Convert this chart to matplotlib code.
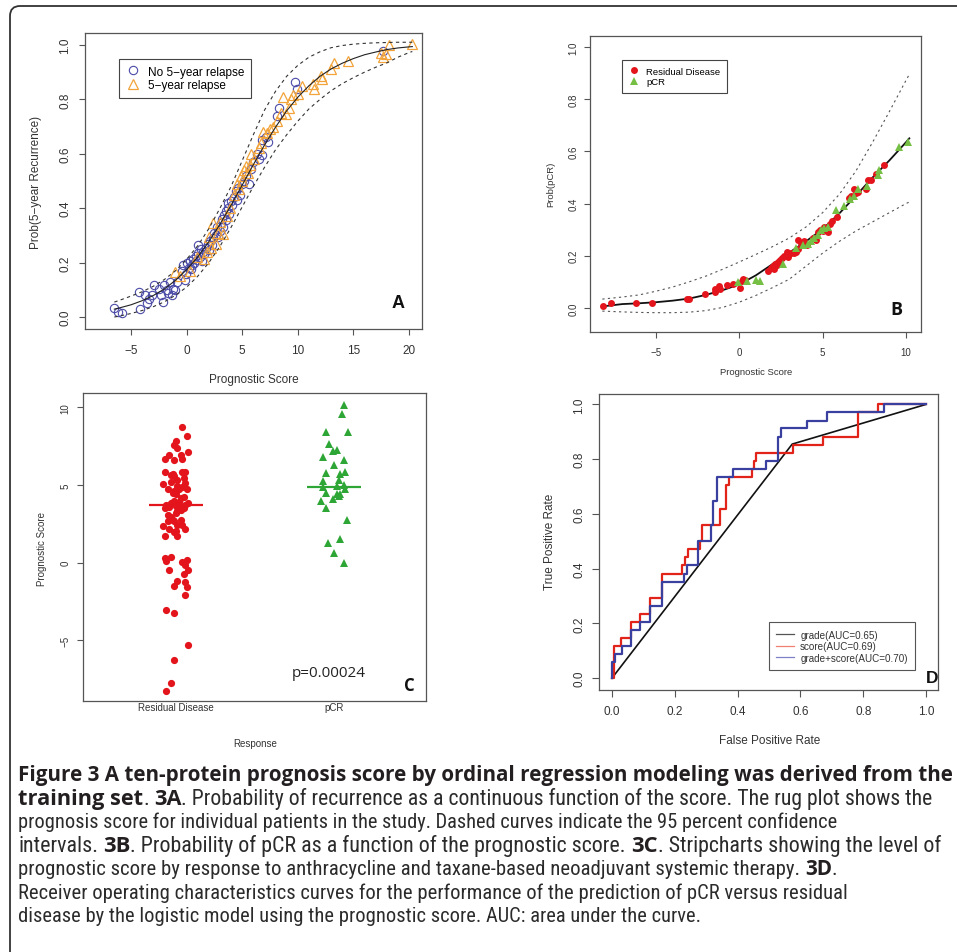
import matplotlib
matplotlib.use('Agg')
import matplotlib.pyplot as plt
from matplotlib import font_manager as fm
from matplotlib.patches import FancyBboxPatch
from matplotlib.lines import Line2D

W, H = 957, 953
plt.rcParams['font.family'] = ['Liberation Sans', 'DejaVu Sans']

# ---------------- data ----------------
# Panel A: prognostic score vs Prob(5-year recurrence)
a_no_relapse = [(-6.5, 0.033), (-6.2, 0.02), (-5.8, 0.015), (-4.25, 0.092), (-4.2, 0.028), (-3.75, 0.082),
                (-3.6, 0.053), (-3.4, 0.067), (-3.15, 0.08), (-2.95, 0.116), (-2.5, 0.104), (-2.3, 0.08),
                (-2.1, 0.055), (-2.05, 0.116), (-1.75, 0.098), (-1.65, 0.09), (-1.5, 0.128), (-1.35, 0.08),
                (-1.2, 0.104), (-1.05, 0.1), (-0.9, 0.13), (-0.45, 0.17), (-0.3, 0.19), (-0.15, 0.135),
                (-0.1, 0.16), (0.05, 0.2), (0.2, 0.18), (0.3, 0.205), (0.4, 0.175), (0.5, 0.19), (0.6, 0.215),
                (0.7, 0.2), (0.8, 0.225), (0.9, 0.21), (1.0, 0.265), (1.05, 0.235), (1.2, 0.22), (1.3, 0.25),
                (1.4, 0.205), (1.5, 0.24), (1.6, 0.23), (1.75, 0.255), (1.9, 0.27), (2.0, 0.245), (2.1, 0.28),
                (2.3, 0.265), (2.4, 0.29), (2.5, 0.31), (2.6, 0.3), (2.75, 0.33), (2.85, 0.295), (3.0, 0.315),
                (3.1, 0.345), (3.2, 0.36), (3.3, 0.33), (3.4, 0.375), (3.5, 0.355), (3.55, 0.39), (3.7, 0.42),
                (3.75, 0.4), (3.85, 0.38), (4.0, 0.425), (4.1, 0.41), (4.25, 0.44), (4.4, 0.465), (4.5, 0.43),
                (4.6, 0.475), (4.8, 0.45), (5.0, 0.49), (5.2, 0.5), (5.3, 0.52), (5.6, 0.49), (5.8, 0.545),
                (6.0, 0.57), (6.3, 0.6), (6.5, 0.58), (6.75, 0.597), (6.8, 0.65), (7.1, 0.66), (7.3, 0.645),
                (8.1, 0.738), (8.35, 0.77), (9.75, 0.865), (9.9, 0.84), (17.7, 0.977)]
a_relapse = [(-1.05, 0.165), (-0.6, 0.15), (0.3, 0.17), (0.9, 0.22), (1.6, 0.215), (1.8, 0.24), (2.0, 0.295),
             (2.2, 0.255), (2.4, 0.345), (2.6, 0.27), (2.8, 0.31), (3.0, 0.35), (3.3, 0.305), (3.6, 0.37),
             (3.9, 0.4), (4.3, 0.45), (4.5, 0.49), (4.7, 0.47), (4.9, 0.52), (5.0, 0.5), (5.2, 0.54),
             (5.3, 0.555), (5.5, 0.53), (5.7, 0.56), (5.8, 0.6), (6.1, 0.58), (6.5, 0.62), (6.7, 0.64),
             (6.9, 0.68), (7.2, 0.675), (7.5, 0.69), (7.8, 0.7), (8.1, 0.72), (8.5, 0.75), (8.7, 0.81),
             (8.9, 0.745), (9.2, 0.77), (9.4, 0.8), (9.6, 0.815), (10.0, 0.82), (10.4, 0.85), (11.4, 0.855),
             (11.5, 0.84), (12.1, 0.885), (12.2, 0.875), (13.0, 0.91), (13.3, 0.935), (14.5, 0.94),
             (17.5, 0.97), (17.7, 0.955), (17.9, 0.965), (18.2, 1.0), (20.3, 1.005)]
a_grid = [-6.5, -6, -5, -4, -3, -2, -1, 0, 1, 2, 3, 4, 5, 6, 7, 8, 9, 10, 11, 12, 13, 14, 15, 16, 17, 18, 19, 20, 20.3]
a_fit = [0.029, 0.034, 0.045, 0.060, 0.079, 0.103, 0.135, 0.174, 0.221, 0.277, 0.341, 0.411, 0.485, 0.560, 0.632,
         0.698, 0.758, 0.808, 0.850, 0.885, 0.912, 0.933, 0.950, 0.964, 0.974, 0.983, 0.989, 0.993, 0.994]
a_upper = [0.055, 0.062, 0.077, 0.093, 0.113, 0.138, 0.170, 0.212, 0.262, 0.325, 0.400, 0.480, 0.575, 0.670, 0.760,
           0.830, 0.885, 0.925, 0.955, 0.975, 0.990, 0.998, 1.003, 1.006, 1.008, 1.009, 1.010, 1.010, 1.010]
a_lower = [0.000, 0.004, 0.013, 0.024, 0.038, 0.056, 0.080, 0.110, 0.150, 0.200, 0.260, 0.330, 0.405, 0.480, 0.550,
           0.615, 0.670, 0.720, 0.765, 0.800, 0.832, 0.858, 0.880, 0.900, 0.918, 0.934, 0.955, 0.972, 0.976]

# Panel B: prognostic score vs Prob(pCR)
b_residual = [(-8.17, 0.006), (-7.67, 0.019), (-6.2, 0.019), (-5.24, 0.019), (-3.14, 0.034), (-3.0, 0.034),
              (-2.04, 0.055), (-1.45, 0.062), (-1.45, 0.073), (-1.19, 0.083), (-1.15, 0.073), (-0.71, 0.089),
              (-0.35, 0.09), (0.05, 0.078), (0.15, 0.105), (0.25, 0.11), (0.35, 0.107), (1.75, 0.14),
              (1.9, 0.155), (2.0, 0.162), (2.1, 0.15), (2.15, 0.17), (2.25, 0.165), (2.3, 0.175), (2.45, 0.185),
              (2.55, 0.19), (2.7, 0.2), (2.85, 0.213), (2.95, 0.195), (3.1, 0.21), (3.3, 0.21), (3.4, 0.215),
              (3.5, 0.26), (3.55, 0.225), (3.7, 0.25), (3.9, 0.255), (4.05, 0.24), (4.4, 0.27), (4.6, 0.26),
              (4.75, 0.29), (4.85, 0.3), (5.0, 0.295), (5.1, 0.31), (5.3, 0.29), (5.45, 0.32), (5.55, 0.335),
              (5.85, 0.35), (6.6, 0.42), (6.7, 0.43), (6.9, 0.455), (7.0, 0.44), (7.1, 0.445), (7.6, 0.455),
              (7.7, 0.49), (7.9, 0.49), (8.2, 0.515), (8.7, 0.548)]
b_pcr = [(-0.08, 0.098), (0.45, 0.105), (1.0, 0.108), (1.25, 0.105), (2.6, 0.17), (3.4, 0.23), (3.8, 0.24),
         (4.1, 0.245), (4.3, 0.255), (4.5, 0.27), (4.7, 0.28), (4.9, 0.3), (5.1, 0.305), (5.3, 0.31),
         (5.79, 0.377), (6.3, 0.39), (6.64, 0.418), (6.9, 0.43), (7.14, 0.456), (7.64, 0.469), (8.3, 0.51),
         (8.4, 0.53), (9.6, 0.615), (10.14, 0.635)]
b_grid = [-8.2, -7, -6, -5, -4, -3, -2, -1, 0, 1, 2, 3, 4, 5, 6, 7, 8, 9, 10, 10.2]
b_fit = [0.006, 0.015, 0.018, 0.022, 0.028, 0.036, 0.05, 0.068, 0.09, 0.125, 0.168, 0.212, 0.255, 0.302,
         0.362, 0.43, 0.50, 0.565, 0.635, 0.65]
b_upper = [0.034, 0.042, 0.05, 0.064, 0.08, 0.10, 0.122, 0.148, 0.176, 0.205, 0.235, 0.268, 0.31, 0.365,
           0.435, 0.525, 0.635, 0.752, 0.872, 0.895]
b_lower = [-0.012, -0.015, -0.017, -0.018, -0.018, -0.016, -0.01, 0.002, 0.022, 0.048, 0.078, 0.11, 0.16,
           0.21, 0.255, 0.295, 0.33, 0.365, 0.40, 0.406]

# Panel C: stripchart of prognostic score by response
c_groups = ['Residual Disease', 'pCR']
c_residual = [(1.04, 8.72), (1.07, 8.18), (1.0, 7.86), (0.99, 7.58), (1.01, 7.37), (1.08, 7.1), (0.96, 6.93),
              (0.93, 6.68), (0.99, 6.62), (1.03, 6.9), (1.04, 6.68), (0.93, 5.86), (0.98, 5.72), (0.99, 5.55),
              (1.04, 5.86), (1.06, 5.85), (1.05, 5.43), (0.97, 5.62), (1.01, 5.3), (0.92, 5.08), (0.97, 5.17),
              (1.01, 4.96), (1.06, 5.1), (1.07, 4.74), (0.95, 4.76), (0.99, 4.61), (1.04, 4.9), (1.0, 4.39),
              (1.03, 4.17), (1.05, 4.24), (0.98, 4.5), (1.02, 4.75), (0.94, 3.74), (0.97, 3.85), (1.0, 3.67),
              (1.03, 3.59), (1.06, 3.74), (1.08, 3.85), (0.93, 3.52), (1.0, 3.2), (1.03, 3.41), (0.96, 3.6),
              (1.02, 3.9), (1.05, 3.5), (0.99, 3.95), (1.01, 3.35), (0.97, 2.94), (0.99, 2.66), (0.95, 2.66),
              (0.98, 2.72), (1.03, 2.72), (1.01, 2.44), (1.04, 2.4), (0.92, 2.38), (0.96, 2.16), (1.06, 2.16),
              (0.99, 1.95), (1.01, 1.7), (0.93, 1.74), (1.0, 2.05), (0.95, 3.05), (0.97, 0.35), (0.93, 0.3),
              (0.94, 0.08), (1.04, 0.02), (1.07, 0.19), (1.06, -0.13), (0.96, -0.45), (1.08, -0.45),
              (1.05, -0.73), (1.01, -1.2), (1.06, -1.26), (0.99, -1.52), (1.07, -1.56), (1.06, -2.11),
              (0.94, -3.06), (0.99, -3.27), (1.08, -5.32), (0.99, -6.29), (0.97, -7.75), (0.94, -8.24)]
c_pcr = [(2.06, 10.17), (2.05, 9.57), (1.95, 8.43), (2.09, 8.43), (1.97, 7.64), (1.99, 7.21), (2.02, 7.27),
         (1.93, 6.78), (2.06, 6.6), (2.0, 6.3), (1.95, 5.74), (2.04, 5.7), (2.07, 5.81), (1.93, 5.27),
         (2.03, 5.34), (1.93, 4.84), (2.02, 4.95), (2.06, 5.02), (2.07, 4.74), (1.95, 4.49), (2.02, 4.43),
         (2.04, 4.43), (2.03, 4.27), (1.99, 4.12), (1.92, 3.95), (1.95, 3.52), (2.08, 2.73), (1.96, 1.27),
         (2.04, 1.53), (2.0, 0.62), (2.06, -0.03)]
c_medians = [3.7, 4.9]
c_pvalue = 'p=0.00024'

# Panel D: ROC curves (fpr, tpr)
d_grade = [(0.0, 0.0), (0.574, 0.855), (1.0, 1.0)]
d_score = [(0.0, 0.0), (0.007, 0.118), (0.03, 0.147), (0.06, 0.206), (0.089, 0.235), (0.121, 0.294),
           (0.16, 0.382), (0.224, 0.412), (0.232, 0.441), (0.243, 0.471), (0.28, 0.5), (0.286, 0.559),
           (0.344, 0.618), (0.363, 0.706), (0.372, 0.735), (0.445, 0.765), (0.452, 0.794), (0.458, 0.824),
           (0.577, 0.853), (0.673, 0.882), (0.784, 0.971), (0.848, 1.0), (1.0, 1.0)]
d_combo = [(0.0, 0.0), (0.0, 0.059), (0.01, 0.088), (0.031, 0.118), (0.061, 0.176), (0.091, 0.206),
           (0.121, 0.265), (0.161, 0.353), (0.229, 0.382), (0.24, 0.412), (0.275, 0.5), (0.315, 0.559),
           (0.321, 0.647), (0.333, 0.735), (0.387, 0.765), (0.49, 0.794), (0.528, 0.882), (0.538, 0.912),
           (0.62, 0.941), (0.684, 0.971), (0.867, 1.0), (1.0, 1.0)]
d_labels = ['grade(AUC=0.65)', 'score(AUC=0.69)', 'grade+score(AUC=0.70)']

caption = [
    [("Figure 3 A ten-protein prognosis score by ordinal regression modeling was derived from the", True)],
    [("training set", True), (". ", False), ("3A", True),
     (". Probability of recurrence as a continuous function of the score. The rug plot shows the", False)],
    [("prognosis score for individual patients in the study. Dashed curves indicate the 95 percent confidence", False)],
    [("intervals. ", False), ("3B", True), (". Probability of pCR as a function of the prognostic score. ", False),
     ("3C", True), (". Stripcharts showing the level of", False)],
    [("prognostic score by response to anthracycline and taxane-based neoadjuvant systemic therapy. ", False),
     ("3D", True), (".", False)],
    [("Receiver operating characteristics curves for the performance of the prediction of pCR versus residual", False)],
    [("disease by the logistic model using the prognostic score. AUC: area under the curve.", False)],
]
# right end of each caption line in the reference (pixels)
caption_ends = [953, 937, 836, 954, 838, 848, 698]


def xs(pts):
    return [p[0] for p in pts]


def ys(pts):
    return [p[1] for p in pts]


def px_axes(fig, x0, y0, x1, y1):
    return fig.add_axes([x0 / W, 1 - y1 / H, (x1 - x0) / W, (y1 - y0) / H])


def r_style(ax, fs, tlen, xpad, ypad):
    for sp in ax.spines.values():
        sp.set_color('#555555')
        sp.set_linewidth(0.9)
    ax.tick_params(direction='out', width=0.8, length=tlen, color='#555555',
                   labelcolor='#333333', labelsize=fs)
    ax.tick_params(axis='x', pad=xpad)
    ax.tick_params(axis='y', pad=ypad, labelrotation=90)
    plt.setp(ax.get_yticklabels(), va='center')


def r_labels(ax, xlabel, ylabel, fs, xpos, ypos):
    ax.set_xlabel(xlabel, fontsize=fs, color='#333333')
    ax.set_ylabel(ylabel, fontsize=fs, color='#333333')
    ax.xaxis.set_label_coords(*xpos)
    ax.xaxis.label.set_va('center')
    ax.yaxis.set_label_coords(*ypos)
    ax.yaxis.label.set_va('center')


fig = plt.figure(figsize=(W / 100, H / 100), dpi=100)

# ---------------- A ----------------
blue_a, orange_a = '#4b4ba8', '#f2a33a'
axA = px_axes(fig, 85, 34, 422, 330)
axA.plot(xs(a_no_relapse), ys(a_no_relapse), 'o', mfc='none', mec=blue_a, ms=6, mew=0.8)
axA.plot(xs(a_relapse), ys(a_relapse), '^', mfc='none', mec=orange_a, ms=7, mew=0.9)
axA.plot(a_grid, a_fit, color='#222222', lw=0.8)
axA.plot(a_grid, a_upper, color='#333333', lw=0.8, dashes=(3, 3))
axA.plot(a_grid, a_lower, color='#333333', lw=0.8, dashes=(3, 3))
axA.set_xlim(-9.14, 21.17)
axA.set_ylim(-0.044, 1.044)
axA.set_xticks([-5, 0, 5, 10, 15, 20])
axA.set_yticks([0, 0.2, 0.4, 0.6, 0.8, 1.0])
axA.set_yticklabels(['0.0', '0.2', '0.4', '0.6', '0.8', '1.0'])
r_style(axA, 8.5, 4, 7, 6)
r_labels(axA, 'Prognostic Score', 'Prob(5\u2212year Recurrence)', 8.5, (0.5015, -0.169), (-0.145, 0.499))
hA = [Line2D([], [], ls='none', marker='o', mfc='none', mec=blue_a, ms=6, mew=0.8),
      Line2D([], [], ls='none', marker='^', mfc='none', mec=orange_a, ms=7, mew=0.9)]
legA = axA.legend(hA, ['No 5\u2212year relapse', '5\u2212year relapse'], loc='upper left',
                  bbox_to_anchor=(0.102, 0.912), fontsize=8.5, fancybox=False, edgecolor='#444444',
                  framealpha=1, borderpad=0.55, labelspacing=0.15, handlelength=1.2,
                  handletextpad=0.7, borderaxespad=0)
legA.get_frame().set_linewidth(0.8)
axA.text(0.929, 0.091, 'A', transform=axA.transAxes, fontsize=13, fontweight='bold',
         ha='center', va='center', color='#111111')

# ---------------- B ----------------
red_b, green_b = '#e3141b', '#74bf44'
axB = px_axes(fig, 590, 37, 921, 333)
axB.plot(b_grid, b_upper, color='#555555', lw=0.8, dashes=(2, 3))
axB.plot(b_grid, b_lower, color='#555555', lw=0.8, dashes=(2, 3))
axB.plot(b_grid, b_fit, color='#111111', lw=1.3)
axB.plot(xs(b_residual), ys(b_residual), 'o', color=red_b, ms=5, mew=0)
axB.plot(xs(b_pcr), ys(b_pcr), '^', color=green_b, ms=5.5, mew=0)
axB.set_xlim(-8.94, 10.9)
axB.set_ylim(-0.092, 1.042)
axB.set_xticks([-5, 0, 5, 10])
axB.set_yticks([0, 0.2, 0.4, 0.6, 0.8, 1.0])
axB.set_yticklabels(['0.0', '0.2', '0.4', '0.6', '0.8', '1.0'])
r_style(axB, 7, 4.5, 6, 4)
r_labels(axB, 'Prognostic Score', 'Prob(pCR)', 6.8, (0.5015, -0.135), (-0.119, 0.503))
hB = [Line2D([], [], ls='none', marker='o', color=red_b, ms=5, mew=0),
      Line2D([], [], ls='none', marker='^', color=green_b, ms=5.5, mew=0)]
legB = axB.legend(hB, ['Residual Disease', 'pCR'], loc='upper left', bbox_to_anchor=(0.0976, 0.919),
                  fontsize=6.8, fancybox=False, edgecolor='#444444', framealpha=1, borderpad=0.7,
                  labelspacing=0.2, handlelength=1.0, handletextpad=0.8, borderaxespad=0)
legB.get_frame().set_linewidth(0.8)
axB.text(0.927, 0.078, 'B', transform=axB.transAxes, fontsize=13, fontweight='bold',
         family=['Open Sans', 'DejaVu Sans'], ha='center', va='center', color='#111111')

# ---------------- C ----------------
red_c, green_c = '#e3141b', '#2ea636'
axC = px_axes(fig, 83, 394, 426, 702)
axC.plot(xs(c_residual), ys(c_residual), 'o', color=red_c, ms=5.2, mew=0)
axC.plot(xs(c_pcr), ys(c_pcr), '^', color=green_c, ms=5.8, mew=0)
for pos, med, col in zip([1, 2], c_medians, [red_c, green_c]):
    axC.hlines(med, pos - 0.17, pos + 0.17, color=col, lw=1.6)
axC.set_xlim(0.414, 2.58)
axC.set_ylim(-8.91, 10.92)
axC.set_xticks([1, 2])
axC.set_xticklabels(c_groups)
axC.set_yticks([-5, 0, 5, 10])
r_style(axC, 7, 4, 1, 5)
axC.tick_params(axis='x', length=0)
r_labels(axC, 'Response', 'Prognostic Score', 7, (0.501, -0.136), (-0.1195, 0.497))
axC.text(0.717, 0.091, c_pvalue, transform=axC.transAxes, fontsize=11,
         family=['Open Sans', 'DejaVu Sans'], ha='center', va='center', color='#222222')
axC.text(0.952, 0.053, 'C', transform=axC.transAxes, fontsize=12, fontweight='bold',
         family=['Open Sans', 'DejaVu Sans'], ha='center', va='center', color='#111111')

# ---------------- D ----------------
red_d, blue_d = '#e2231a', '#3a40a0'
axD = px_axes(fig, 599, 394.7, 938, 691)
axD.plot(xs(d_grade), ys(d_grade), color='#111111', lw=1.2)
axD.plot(xs(d_score), ys(d_score), color=red_d, lw=1.6, drawstyle='steps-post')
axD.plot(xs(d_combo), ys(d_combo), color=blue_d, lw=1.6, drawstyle='steps-post')
axD.set_xlim(-0.041, 1.038)
axD.set_ylim(-0.043, 1.039)
ticks = [0, 0.2, 0.4, 0.6, 0.8, 1.0]
tick_txt = ['0.0', '0.2', '0.4', '0.6', '0.8', '1.0']
axD.set_xticks(ticks)
axD.set_xticklabels(tick_txt)
axD.set_yticks(ticks)
axD.set_yticklabels(tick_txt)
r_style(axD, 8.5, 5, 6, 5)
r_labels(axD, 'False Positive Rate', 'True Positive Rate', 8.5, (0.502, -0.168), (-0.1445, 0.504))
hD = [Line2D([], [], color='#555555', lw=0.9), Line2D([], [], color='#f08070', lw=0.9),
      Line2D([], [], color='#8080c8', lw=0.9)]
legD = axD.legend(hD, d_labels, loc='lower right', bbox_to_anchor=(0.932, 0.0675), fontsize=7.1,
                  fancybox=False, edgecolor='#555555', framealpha=1, borderpad=0.74, labelspacing=0.15,
                  handlelength=1.8, handletextpad=0.6, borderaxespad=0)
legD.get_frame().set_linewidth(0.8)
for t in legD.get_texts():
    t.set_color('#333333')
axD.text(0.983, 0.0415, 'D', transform=axD.transAxes, fontsize=12.5, fontweight='bold',
         ha='center', va='center', color='#111111')

# ---------------- frame ----------------
frame = FancyBboxPatch((0.10, -1.0), 11.0, 10.46, boxstyle='round,pad=0,rounding_size=0.1',
                       transform=fig.dpi_scale_trans, fill=False, edgecolor='#333333', lw=1.3)
fig.add_artist(frame)

# ---------------- caption ----------------
def find_font(cands):
    for fam, st in cands:
        try:
            path = fm.findfont(fm.FontProperties(family=fam, stretch=st), fallback_to_default=False)
        except Exception:
            continue
        if 'narrow' in path.lower() or 'condensed' in path.lower():
            return fam, st
    return None


narrow = find_font([('Roboto Condensed', 'normal'), ('Liberation Sans Narrow', 'normal'),
                    ('Open Sans Condensed', 'normal'), ('Noto Sans', 'condensed'),
                    ('Noto Sans', 'semi-condensed')]) or ('Roboto', 'normal')
renderer = fig.canvas.get_renderer()
# style per weight: family, stretch
cap_style = {False: narrow, True: narrow}


def text_w(s, size, bold):
    fam, st = cap_style[bold]
    t = fig.text(0, 0, s, fontsize=size, fontweight='bold' if bold else 'normal',
                 family=[fam, 'DejaVu Sans'], fontstretch=st)
    w = t.get_window_extent(renderer).width
    t.remove()
    return w


def line_w(pieces, size):
    w = 0
    for s, bold in pieces:
        sp = text_w('a a', size, bold) - text_w('aa', size, bold)
        core = s.strip(' ')
        w += text_w(core, size, bold) + sp * (len(s) - len(core))
    return w


# base size from the purely regular lines
reg_idx = [2, 5, 6]
sizes = [12 * (caption_ends[i] - 18) / line_w(caption[i], 12) for i in reg_idx]
base_size = sorted(sizes)[1]
# choose the bold face width that best fills line 1
best = None
for cand in [narrow, ('Roboto', 'normal'), ('Open Sans', 'normal'), ('Liberation Sans', 'normal')]:
    cap_style[True] = cand
    err = abs(line_w(caption[0], base_size) - (caption_ends[0] - 18))
    if best is None or err < best[0]:
        best = (err, cand)
cap_style[True] = best[1]

baselines = [781.5, 805, 828.5, 852, 875.5, 899, 922]
for pieces, yb, xend in zip(caption, baselines, caption_ends):
    # small per-line size tweak so each line ends where the reference line ends
    size = base_size * (xend - 18) / line_w(pieces, base_size)
    size = min(max(size, base_size * 0.94), base_size * 1.07)
    x = 18
    for s, bold in pieces:
        fam, st = cap_style[bold]
        sp = text_w('a a', size, bold) - text_w('aa', size, bold)
        core = s.strip(' ')
        x += sp * (len(s) - len(s.lstrip(' ')))
        t = fig.text(x / W, 1 - yb / H, core, fontsize=size, fontweight='bold' if bold else 'normal',
                     family=[fam, 'DejaVu Sans'], fontstretch=st, va='baseline', ha='left',
                     color='#231f20' if bold else '#2b2b2b')
        x += t.get_window_extent(renderer).width
        x += sp * (len(s) - len(s.rstrip(' ')))

fig.savefig('out.png', dpi=100)
